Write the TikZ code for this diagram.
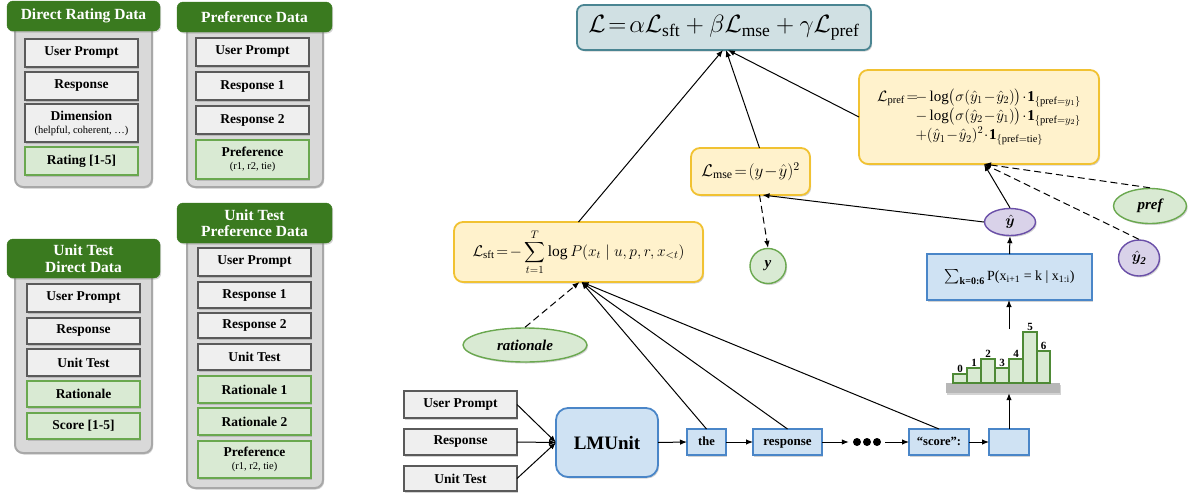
\RequirePackage{fix-cm}
\documentclass[tikz,border=0pt]{standalone}
\usepackage{amsmath,bm}
\usepackage{fontspec}
\setmainfont{Liberation Serif}
\usetikzlibrary{arrows.meta,shadows,shapes.geometric}
\definecolor{hdrgreen}{HTML}{3A7A1F}
\definecolor{contfill}{HTML}{D9D9D9}
\definecolor{contdraw}{HTML}{A8A8A8}
\definecolor{boxfill}{HTML}{EFEFEF}
\definecolor{boxdraw}{HTML}{5A5A5A}
\definecolor{gfill}{HTML}{D9EAD3}
\definecolor{gdraw}{HTML}{6AA84F}
\definecolor{bardraw}{HTML}{4E8A36}
\definecolor{yfill}{HTML}{FFF2CC}
\definecolor{ydraw}{HTML}{F1C232}
\definecolor{bfill}{HTML}{CFE2F3}
\definecolor{bdraw}{HTML}{4A86C8}
\definecolor{pfill}{HTML}{D9D2E9}
\definecolor{pdraw}{HTML}{6A4FA8}
\definecolor{lfill}{HTML}{D0E0E3}
\definecolor{ldraw}{HTML}{4A8592}
\definecolor{basegray}{HTML}{B7B7B7}
\newcommand{\bx}[7]{\node[#6, minimum width={(#4-#2)*1pt}, minimum height={(#5-#3)*1pt}] (#1) at ({(#2+#4)/2},{(#3+#5)/2}) {#7};}
\newcommand{\elp}[6]{\node[#5, minimum width=#3pt, minimum height=#4pt] (#1) at #2 {#6};}
\tikzset{
  shd/.style={drop shadow={opacity=0.35, shadow xshift=1.2pt, shadow yshift=-1.5pt}},
  cont/.style={fill=contfill, draw=contdraw, line width=2pt, rounded corners=8pt, shd, inner sep=0pt, outer sep=0pt},
  hdr/.style={fill=hdrgreen, draw=hdrgreen, rounded corners=6pt, text=white, font=\bfseries\fontsize{15.5}{16.5}\selectfont, align=center, inner sep=0pt, shd, outer sep=0pt},
  ibox/.style={fill=boxfill, draw=boxdraw, line width=1.8pt, font=\bfseries\fontsize{13.5}{14}\selectfont, align=center, inner sep=0pt, shd, outer sep=0pt},
  gbox/.style={ibox, fill=gfill, draw=gdraw},
  tok/.style={fill=bfill, draw=bdraw, line width=1.4pt, font=\bfseries\fontsize{13}{14}\selectfont, inner sep=0pt, shd, outer sep=0pt, text height=9pt, text depth=3pt},
  ybox/.style={fill=yfill, draw=ydraw, line width=1.8pt, rounded corners=9pt, inner sep=0pt, shd, outer sep=0pt},
  lbox/.style={fill=lfill, draw=ldraw, line width=1.8pt, rounded corners=7pt, inner sep=0pt, shd, outer sep=0pt},
  pel/.style={ellipse, fill=pfill, draw=pdraw, line width=1.4pt, inner sep=0pt, shd, font=\fontsize{15}{16}\selectfont},
  gel/.style={ellipse, fill=gfill, draw=gdraw, line width=1.4pt, inner sep=0pt, shd, font=\bfseries\itshape\fontsize{15}{16}\selectfont},
  hbar/.style={fill=gfill, draw=bardraw, line width=1.2pt},
  hlab/.style={font=\bfseries\fontsize{11}{12}\selectfont, inner sep=0pt, anchor=south},
  arr/.style={-{Latex[length=7pt,width=5.5pt]}, line width=1pt},
  darr/.style={arr, dashed, dash pattern=on 7pt off 4pt}
}
\newcommand{\subtxt}[1]{\\[-1pt]{\normalfont\fontsize{10.5}{11}\selectfont #1}}
\begin{document}
\begin{tikzpicture}[x=1pt,y=-1pt]
\useasboundingbox (0,0) rectangle (1192,496);
% ---------- Panel 1
\bx{c1}{15}{22}{152}{187}{cont}{}
\bx{h1}{7}{1}{160}{31}{hdr}{Direct Rating Data}
\bx{p1a}{25}{39}{138}{67}{ibox}{User Prompt}
\bx{p1b}{25}{72}{138}{100}{ibox}{Response}
\bx{p1c}{25}{104}{138}{142}{ibox}{Dimension\subtxt{(helpful, coherent, \dots)}}
\bx{p1d}{25}{147}{138}{175}{gbox}{Rating [1-5]}
% ---------- Panel 2
\bx{c2}{187}{22}{323}{187}{cont}{}
\bx{h2}{177}{2}{332}{32}{hdr}{Preference Data}
\bx{p2a}{196}{38}{309}{66}{ibox}{User Prompt}
\bx{p2b}{196}{72}{309}{100}{ibox}{Response 1}
\bx{p2c}{196}{106}{309}{134}{ibox}{Response 2}
\bx{p2d}{196}{140}{309}{179}{gbox}{Preference\subtxt{(r1, r2, tie)}}
% ---------- Panel 3
\bx{c3}{15}{268}{152}{453}{cont}{}
\bx{h3}{7}{239}{160}{278}{hdr}{Unit Test\\Direct Data}
\bx{p3a}{27}{284}{140}{312}{ibox}{User Prompt}
\bx{p3b}{27}{318}{140}{344}{ibox}{Response}
\bx{p3c}{27}{349}{140}{376}{ibox}{Unit Test}
\bx{p3d}{27}{381}{140}{407}{gbox}{Rationale}
\bx{p3e}{27}{413}{140}{439}{gbox}{Score [1-5]}
% ---------- Panel 4
\bx{c4}{187}{235}{323}{488}{cont}{}
\bx{h4}{177}{203}{332}{243}{hdr}{Unit Test\\Preference Data}
\bx{p4a}{198}{248}{311}{276}{ibox}{User Prompt}
\bx{p4b}{198}{282}{311}{308}{ibox}{Response 1}
\bx{p4c}{198}{313}{311}{338}{ibox}{Response 2}
\bx{p4d}{198}{344}{311}{370}{ibox}{Unit Test}
\bx{p4e}{198}{376}{311}{403}{gbox}{Rationale 1}
\bx{p4f}{198}{408}{311}{435}{gbox}{Rationale 2}
\bx{p4g}{198}{441}{311}{478}{gbox}{Preference\subtxt{(r1, r2, tie)}}
% ---------- Losses
\bx{L}{577}{5}{871}{50}{lbox}{\fontsize{25}{27}\selectfont$\mathcal{L}\!=\!\alpha\mathcal{L}_{\text{sft}}+\beta\mathcal{L}_{\text{mse}}+\gamma\mathcal{L}_{\text{pref}}$}
\bx{Lpref}{859}{70}{1099}{164}{ybox}{\fontsize{15}{17}\selectfont$\begin{aligned}\mathcal{L}_{\text{pref}}\!=\!&{-}\log\bigl(\sigma(\hat y_1\!-\!\hat y_2)\bigr)\!\cdot\!\mathbf{1}_{\{\text{pref}=y_1\}}\\[-3pt] &{-}\log\bigl(\sigma(\hat y_2\!-\!\hat y_1)\bigr)\!\cdot\!\mathbf{1}_{\{\text{pref}=y_2\}}\\[-3pt] &{+}(\hat y_1\!-\!\hat y_2)^2\!\cdot\!\mathbf{1}_{\{\text{pref}=\text{tie}\}}\end{aligned}$}
\bx{Lmse}{691}{148}{810}{195}{ybox}{\fontsize{17}{19}\selectfont$\mathcal{L}_{\text{mse}}\!=\!(y\!-\!\hat y)^2$}
\bx{Lsft}{454}{222}{703}{282}{ybox}{\fontsize{15.5}{17}\selectfont$\displaystyle\mathcal{L}_{\text{sft}}\!=\!-\sum_{t=1}^{T}\log P(x_t\mid u,p,r,x_{<t})$}
% ---------- ellipses
\elp{yc}{(768,266)}{36}{35}{gel}{y}
\elp{rat}{(525,345)}{124}{34}{gel}{rationale}
\elp{yhat}{(1010,222)}{51}{27}{pel}{$\bm{\hat y}$}
\elp{pref}{(1150,206)}{73}{35}{gel}{pref}
\elp{yhat2}{(1139,258)}{41}{36}{pel}{$\bm{\hat y_{\mathit 2}}$}
% ---------- sum box
\bx{sum}{927}{254}{1092}{300}{tok, text height=, text depth=}{\mdseries\fontsize{14}{15}\selectfont$\sum_{\text{\bfseries\fontsize{10}{11}\selectfont k=0:6}}$\,P(x\textsubscript{i+1} = k | x\textsubscript{1:i})}
% ---------- histogram
\bx{base}{946}{383}{1060}{393}{fill=basegray, draw=none, shd, inner sep=0pt}{}
\foreach \xa/\xb/\t/\lab in {953/967/374/0, 967/981/368/1, 981/995/359/2, 995/1009/368/3, 1009/1023/359/4, 1023/1037/332/5, 1037/1050/351/6}{
  \draw[hbar] (\xa,383) rectangle (\xb,\t);
  \node[hlab] at ({(\xa+\xb)/2},\t-1) {\lab};
}
\coordinate (histtop) at (1009,329);
% ---------- bottom row
\bx{inUP}{404}{391}{517}{418}{ibox}{User Prompt}
\bx{inR}{404}{429}{517}{455}{ibox}{Response}
\bx{inUT}{404}{466}{517}{491}{ibox}{Unit Test}
\bx{lm}{556}{408}{658}{477}{tok, text height=, text depth=, rounded corners=12pt, line width=1.8pt, font=\bfseries\fontsize{19}{21}\selectfont}{LMUnit}
\bx{the}{687}{429}{726}{455}{tok, font=\bfseries\fontsize{12.5}{13}\selectfont}{the}
\bx{resp}{753}{429}{822}{455}{tok}{response}
\node[minimum width=36pt, minimum height=12pt, inner sep=0pt] (dots) at (867,442) {};
\foreach \xx in {857,867,877} \fill (\xx,442) circle (4);
\bx{score}{909}{429}{969}{455}{tok, font=\bfseries\fontsize{12.5}{13}\selectfont}{``score'':}
\bx{last}{989}{429}{1029}{455}{tok}{}
% ---------- connectors
\draw[arr] (inUP.east) -- (lm.west);
\draw[arr] (inR.east) -- (lm.west);
\draw[arr] (inUT.east) -- (lm.west);
\draw[arr] (lm.east) -- (the.west);
\draw[arr] (the.east) -- (resp.west);
\draw[arr] (resp.east) -- (dots.west);
\draw[arr] (dots.east) -- (score.west);
\draw[arr] (score.east) -- (last.west);
\draw[arr] (last.north) -- (last.north |- base.south);
\draw[arr] (histtop) -- (histtop |- sum.south);
\draw[arr] (sum.north) -- (yhat.south);
\draw[arr] (the.north) -- ([xshift=3pt]Lsft.south);
\draw[arr] (resp.north) -- ([xshift=3pt]Lsft.south);
\draw[arr] (score.north) -- ([xshift=3pt]Lsft.south);
\draw[darr] (rat.north) -- ([xshift=1pt]Lsft.south);
\draw[arr] (Lsft.north) -- ([xshift=-1pt]L.south);
\draw[arr] ([xshift=9pt]Lmse.north) -- ([xshift=2pt]L.south);
\draw[arr] (Lpref.west) -- ([xshift=4pt]L.south);
\draw[arr] (yhat.west) -- ([xshift=12pt]Lmse.south);
\draw[darr] ([xshift=9pt]Lmse.south) -- (yc.north);
\draw[arr] (yhat.north) -- ([xshift=5pt]Lpref.south);
\draw[darr] (pref.north) -- ([xshift=5pt]Lpref.south);
\draw[darr] (yhat2.north) -- ([xshift=5pt]Lpref.south);
\end{tikzpicture}
\end{document}
